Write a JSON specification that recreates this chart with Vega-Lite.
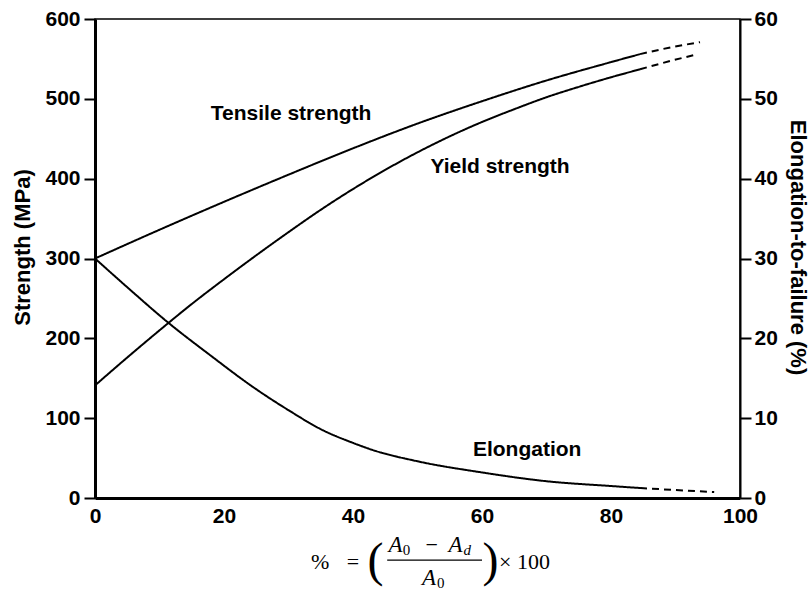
{
  "$schema": "https://vega.github.io/schema/vega-lite/v6.json",
  "width": 645,
  "height": 479,
  "autosize": {"type": "none"},
  "padding": {"left": 95, "top": 19, "right": 71, "bottom": 96},
  "background": "white",
  "config": {
    "font": "Liberation Sans",
    "view": {"stroke": "black", "strokeWidth": 1.5},
    "axis": {
      "grid": false,
      "labelFont": "Liberation Sans",
      "labelFontWeight": "bold",
      "labelFontSize": 21,
      "labelColor": "black",
      "titleFont": "Liberation Sans",
      "titleFontWeight": "bold",
      "titleFontSize": 22,
      "titleColor": "black",
      "domainColor": "black",
      "tickColor": "black"
    }
  },
  "datasets": {
    "strength": [
      {"series": "Tensile", "segment": "measured", "x": 0, "y": 300},
      {"series": "Tensile", "segment": "measured", "x": 10, "y": 336},
      {"series": "Tensile", "segment": "measured", "x": 20, "y": 371},
      {"series": "Tensile", "segment": "measured", "x": 30, "y": 405},
      {"series": "Tensile", "segment": "measured", "x": 40, "y": 438},
      {"series": "Tensile", "segment": "measured", "x": 50, "y": 469},
      {"series": "Tensile", "segment": "measured", "x": 60, "y": 497},
      {"series": "Tensile", "segment": "measured", "x": 70, "y": 523},
      {"series": "Tensile", "segment": "measured", "x": 80, "y": 546},
      {"series": "Tensile", "segment": "measured", "x": 84.5, "y": 556},
      {"series": "Tensile", "segment": "extrapolated", "x": 84.5, "y": 556},
      {"series": "Tensile", "segment": "extrapolated", "x": 89, "y": 564},
      {"series": "Tensile", "segment": "extrapolated", "x": 93.8, "y": 571},
      {"series": "Yield", "segment": "measured", "x": 0, "y": 141},
      {"series": "Yield", "segment": "measured", "x": 5, "y": 176},
      {"series": "Yield", "segment": "measured", "x": 10, "y": 210},
      {"series": "Yield", "segment": "measured", "x": 15, "y": 243},
      {"series": "Yield", "segment": "measured", "x": 20, "y": 274},
      {"series": "Yield", "segment": "measured", "x": 25, "y": 304},
      {"series": "Yield", "segment": "measured", "x": 30, "y": 333},
      {"series": "Yield", "segment": "measured", "x": 35, "y": 361},
      {"series": "Yield", "segment": "measured", "x": 40, "y": 387},
      {"series": "Yield", "segment": "measured", "x": 45, "y": 411},
      {"series": "Yield", "segment": "measured", "x": 50, "y": 433},
      {"series": "Yield", "segment": "measured", "x": 55, "y": 453},
      {"series": "Yield", "segment": "measured", "x": 60, "y": 471},
      {"series": "Yield", "segment": "measured", "x": 65, "y": 487},
      {"series": "Yield", "segment": "measured", "x": 70, "y": 502},
      {"series": "Yield", "segment": "measured", "x": 75, "y": 515},
      {"series": "Yield", "segment": "measured", "x": 80, "y": 527},
      {"series": "Yield", "segment": "measured", "x": 84.5, "y": 537},
      {"series": "Yield", "segment": "extrapolated", "x": 84.5, "y": 537},
      {"series": "Yield", "segment": "extrapolated", "x": 89, "y": 547},
      {"series": "Yield", "segment": "extrapolated", "x": 93.5, "y": 556}
    ],
    "elong": [
      {"segment": "measured", "x": 0, "y": 30},
      {"segment": "measured", "x": 5, "y": 26.4},
      {"segment": "measured", "x": 11.3, "y": 22},
      {"segment": "measured", "x": 18, "y": 17.8},
      {"segment": "measured", "x": 24.5, "y": 13.9},
      {"segment": "measured", "x": 30, "y": 11},
      {"segment": "measured", "x": 35.3, "y": 8.5},
      {"segment": "measured", "x": 40, "y": 6.9},
      {"segment": "measured", "x": 43.1, "y": 6},
      {"segment": "measured", "x": 50, "y": 4.6},
      {"segment": "measured", "x": 60, "y": 3.2},
      {"segment": "measured", "x": 70, "y": 2.1},
      {"segment": "measured", "x": 80, "y": 1.5},
      {"segment": "measured", "x": 84.5, "y": 1.25},
      {"segment": "extrapolated", "x": 84.5, "y": 1.25},
      {"segment": "extrapolated", "x": 90, "y": 1.0},
      {"segment": "extrapolated", "x": 96, "y": 0.75}
    ],
    "labels": [
      {"x": 30.4, "y": 481, "label": "Tensile strength"},
      {"x": 62.8, "y": 414, "label": "Yield strength"},
      {"x": 67, "y": 60, "label": "Elongation"}
    ],
    "formula": [
      {"part": "main", "x": 34.9, "y": -80, "text": "%"},
      {"part": "main", "x": 40, "y": -80, "text": "="},
      {"part": "main", "x": 52.2, "y": -59, "text": "−"},
      {"part": "main", "x": 66.6, "y": -80, "text": "× 100"},
      {"part": "italic", "x": 46.6, "y": -59, "text": "A"},
      {"part": "italic", "x": 55.9, "y": -59, "text": "A"},
      {"part": "italic", "x": 51.8, "y": -100, "text": "A"},
      {"part": "sub", "x": 48.3, "y": -65, "text": "0"},
      {"part": "sub", "x": 53.6, "y": -106, "text": "0"},
      {"part": "subitalic", "x": 57.7, "y": -65, "text": "d"},
      {"part": "paren", "x": 43.5, "y": -80, "text": "("},
      {"part": "paren", "x": 61.3, "y": -80, "text": ")"}
    ],
    "bar": [
      {"x": 45.3, "x2": 60, "y": -77.7}
    ]
  },
  "layer": [
    {
      "layer": [
        {
          "data": {"name": "strength"},
          "mark": {"type": "line", "color": "black", "strokeWidth": 2, "interpolate": "monotone"},
          "encoding": {
            "x": {"field": "x", "type": "quantitative", "scale": {"domain": [0, 100], "nice": false},
              "axis": {"values": [0, 20, 40, 60, 80, 100], "title": null, "tickSize": 0, "labelPadding": 7, "domainWidth": 3, "labelFlush": false}},
            "y": {"field": "y", "type": "quantitative", "scale": {"domain": [0, 600], "nice": false},
              "axis": {"orient": "left", "values": [0, 100, 200, 300, 400, 500, 600], "title": "Strength (MPa)", "tickSize": 11, "tickWidth": 2, "labelPadding": 4, "domainWidth": 3, "titleAngle": -90, "titleX": -73, "titleY": 228, "titleAlign": "center", "titleBaseline": "middle"}},
            "detail": {"field": "series"},
            "strokeDash": {"field": "segment", "type": "nominal", "scale": {"domain": ["measured", "extrapolated"], "range": [[1, 0], [7, 5]]}, "legend": null}
          }
        },
        {
          "data": {"name": "labels"},
          "mark": {"type": "text", "font": "Liberation Sans", "fontWeight": "bold", "fontSize": 21, "color": "black", "align": "center", "baseline": "middle"},
          "encoding": {
            "x": {"field": "x", "type": "quantitative", "scale": {"domain": [0, 100]}},
            "y": {"field": "y", "type": "quantitative", "scale": {"domain": [0, 600]}},
            "text": {"field": "label"}
          }
        },
        {
          "data": {"name": "formula"},
          "transform": [{"filter": "datum.part === 'main'"}],
          "mark": {"type": "text", "font": "Liberation Serif", "fontSize": 22, "color": "black", "align": "center", "baseline": "middle"},
          "encoding": {
            "x": {"field": "x", "type": "quantitative", "scale": {"domain": [0, 100]}},
            "y": {"field": "y", "type": "quantitative", "scale": {"domain": [0, 600]}},
            "text": {"field": "text"}
          }
        },
        {
          "data": {"name": "formula"},
          "transform": [{"filter": "datum.part === 'italic'"}],
          "mark": {"type": "text", "font": "Liberation Serif", "fontStyle": "italic", "fontSize": 23, "color": "black", "align": "center", "baseline": "middle"},
          "encoding": {
            "x": {"field": "x", "type": "quantitative", "scale": {"domain": [0, 100]}},
            "y": {"field": "y", "type": "quantitative", "scale": {"domain": [0, 600]}},
            "text": {"field": "text"}
          }
        },
        {
          "data": {"name": "formula"},
          "transform": [{"filter": "datum.part === 'sub'"}],
          "mark": {"type": "text", "font": "Liberation Serif", "fontSize": 15, "color": "black", "align": "center", "baseline": "middle"},
          "encoding": {
            "x": {"field": "x", "type": "quantitative", "scale": {"domain": [0, 100]}},
            "y": {"field": "y", "type": "quantitative", "scale": {"domain": [0, 600]}},
            "text": {"field": "text"}
          }
        },
        {
          "data": {"name": "formula"},
          "transform": [{"filter": "datum.part === 'subitalic'"}],
          "mark": {"type": "text", "font": "Liberation Serif", "fontStyle": "italic", "fontSize": 15, "color": "black", "align": "center", "baseline": "middle"},
          "encoding": {
            "x": {"field": "x", "type": "quantitative", "scale": {"domain": [0, 100]}},
            "y": {"field": "y", "type": "quantitative", "scale": {"domain": [0, 600]}},
            "text": {"field": "text"}
          }
        },
        {
          "data": {"name": "formula"},
          "transform": [{"filter": "datum.part === 'paren'"}],
          "mark": {"type": "text", "font": "Liberation Serif", "fontSize": 48, "color": "black", "align": "center", "baseline": "middle"},
          "encoding": {
            "x": {"field": "x", "type": "quantitative", "scale": {"domain": [0, 100]}},
            "y": {"field": "y", "type": "quantitative", "scale": {"domain": [0, 600]}},
            "text": {"field": "text"}
          }
        },
        {
          "data": {"name": "bar"},
          "mark": {"type": "rule", "color": "black", "strokeWidth": 1.3},
          "encoding": {
            "x": {"field": "x", "type": "quantitative", "scale": {"domain": [0, 100]}},
            "x2": {"field": "x2"},
            "y": {"field": "y", "type": "quantitative", "scale": {"domain": [0, 600]}}
          }
        }
      ]
    },
    {
      "data": {"name": "elong"},
      "mark": {"type": "line", "color": "black", "strokeWidth": 2, "interpolate": "monotone"},
      "encoding": {
        "x": {"field": "x", "type": "quantitative", "scale": {"domain": [0, 100]}},
        "y": {"field": "y", "type": "quantitative", "scale": {"domain": [0, 60], "nice": false},
          "axis": {"orient": "right", "values": [0, 10, 20, 30, 40, 50, 60], "title": "Elongation-to-failure (%)", "tickSize": 11, "tickWidth": 2, "labelPadding": 3, "domainWidth": 2, "titleAngle": 90, "titleX": 57, "titleY": 228, "titleAlign": "center", "titleBaseline": "middle"}},
        "strokeDash": {"field": "segment", "type": "nominal", "scale": {"domain": ["measured", "extrapolated"], "range": [[1, 0], [7, 5]]}, "legend": null}
      }
    }
  ],
  "resolve": {"scale": {"y": "independent"}}
}
